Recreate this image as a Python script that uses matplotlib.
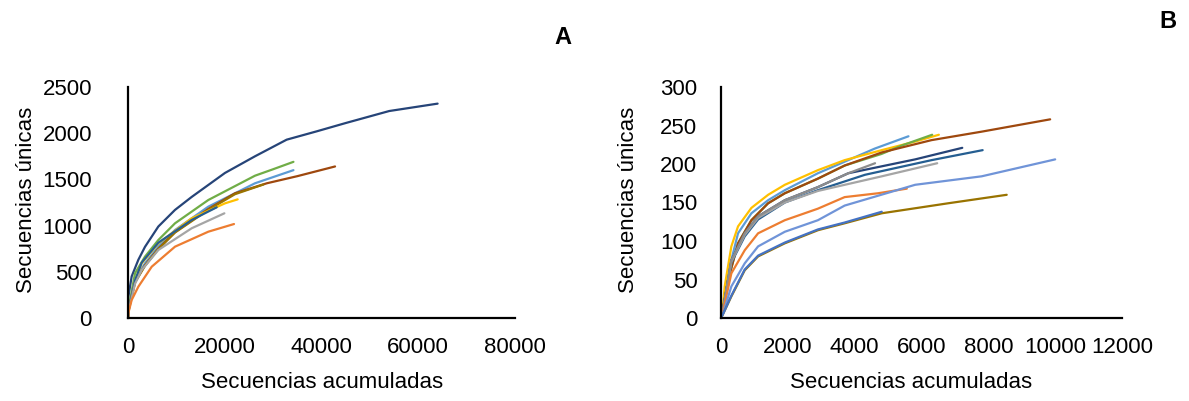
# plot.py
# rarefaction curves, two panels (A: all reads, B: subset)

import matplotlib
matplotlib.use('Agg')
import matplotlib.pyplot as plt

plt.rcParams['font.family'] = ['Liberation Sans', 'DejaVu Sans']

# panel A: accumulated vs unique sequences
A_X = [
	[0, 70, 760, 2140, 3510, 6270, 9720, 13160, 20050, 26250, 32800, 39000, 45000, 54000, 64000],
	[0, 100, 1450, 3510, 6270, 9720, 16600, 26250, 30000, 34200],
	[0, 100, 1450, 3510, 6270, 9720, 16600, 26250, 34200],
	[0, 100, 1450, 3510, 6270, 9720, 16600, 22120, 28700, 35000, 42800],
	[0, 100, 1450, 3510, 6270, 9720, 16600, 22120, 28000],
	[0, 100, 1450, 2830, 6270, 13160, 20050, 22670],
	[0, 100, 1450, 2830, 6270, 13160, 18330],
	[0, 100, 1450, 2830, 6270, 13160, 19920],
	[0, 100, 760, 2140, 4900, 9720, 16600, 21910],
]
A_Y = [
	[0, 230, 450, 630, 770, 990, 1170, 1310, 1570, 1750, 1930, 2020, 2110, 2240, 2320],
	[0, 100, 484, 664, 844, 1025, 1277, 1540, 1610, 1690],
	[0, 90, 411, 592, 772, 952, 1205, 1458, 1600],
	[0, 85, 390, 570, 750, 930, 1180, 1350, 1458, 1535, 1640],
	[0, 85, 385, 565, 745, 925, 1170, 1340, 1445],
	[0, 80, 400, 592, 808, 1079, 1241, 1284],
	[0, 80, 405, 600, 815, 1061, 1198],
	[0, 70, 370, 519, 736, 971, 1133],
	[0, 60, 195, 339, 555, 772, 934, 1017],
]
A_COLORS = ['#264478', '#70AD47', '#5B9BD5', '#9E480E', '#997300',
	'#FFC000', '#255E91', '#A5A5A5', '#ED7D31']

# panel B
B_X = [
	[0, 60, 210, 510, 910, 1410, 1910, 2900, 3700, 4600, 5610],
	[0, 60, 110, 310, 510, 910, 1410, 1910, 2900, 3700, 4810, 5800, 6520],
	[0, 60, 210, 510, 910, 1410, 1910, 2900, 3700, 4800, 5410, 6320],
	[0, 60, 210, 510, 910, 1410, 1910, 2900, 3700, 4810, 6300, 7800, 9850],
	[0, 60, 310, 710, 1110, 1910, 2900, 3810, 5810, 7220],
	[0, 60, 310, 710, 1110, 1910, 2900, 4310, 6300, 7830],
	[0, 60, 310, 710, 1110, 1910, 2900, 4810, 6470],
	[0, 60, 310, 710, 1110, 1910, 2900, 3810, 4610],
	[0, 60, 310, 710, 1110, 1910, 2900, 3700, 4700, 5560],
	[0, 60, 310, 710, 1110, 1910, 2900, 3700, 5810, 7800, 10000],
	[0, 60, 310, 710, 1110, 1910, 2900, 3700, 4810, 6800, 8550],
	[0, 60, 310, 710, 1110, 1910, 2900, 3700, 4810],
]
B_Y = [
	[0, 15, 58, 110, 136, 153, 166, 188, 203, 220, 236],
	[0, 15, 41, 93, 119, 143, 160, 173, 192, 205, 218, 229, 238],
	[0, 12, 49, 97, 127, 149, 162, 181, 198, 213, 224, 238],
	[0, 12, 49, 97, 127, 149, 162, 181, 198, 215, 231, 242, 258],
	[0, 10, 75, 110, 132, 153, 170, 188, 206, 221],
	[0, 10, 72, 106, 128, 150, 166, 186, 205, 218],
	[0, 10, 73, 108, 130, 150, 165, 184, 201],
	[0, 10, 75, 110, 132, 153, 170, 188, 201],
	[0, 8, 58, 88, 110, 127, 142, 157, 162, 168],
	[0, 6, 41, 71, 93, 112, 127, 146, 173, 184, 206],
	[0, 5, 28, 62, 80, 97, 114, 123, 136, 149, 160],
	[0, 5, 29, 63, 81, 98, 115, 124, 138],
]
B_COLORS = ['#5B9BD5', '#FFC000', '#70AD47', '#9E480E', '#264478', '#255E91',
	'#A5A5A5', '#8C8C8C', '#ED7D31', '#7094D8', '#997300', '#4472C4']

A_XTICKS = [0, 20000, 40000, 60000, 80000]
A_YTICKS = [0, 500, 1000, 1500, 2000, 2500]
B_XTICKS = [0, 2000, 4000, 6000, 8000, 10000, 12000]
B_YTICKS = [0, 50, 100, 150, 200, 250, 300]

W, H = 1189, 401


def style_axes(ax, xticks, yticks, ypad):
	for s in ['top', 'right']:
		ax.spines[s].set_visible(False)
	for s in ['left', 'bottom']:
		ax.spines[s].set_linewidth(1.6)
	ax.set_xticks(xticks)
	ax.set_yticks(yticks)
	ax.set_xlim(xticks[0], xticks[-1])
	ax.set_ylim(yticks[0], yticks[-1])
	ax.tick_params(axis='x', length=0, pad=14, labelsize=16)
	ax.tick_params(axis='y', length=0, pad=ypad, labelsize=16)


def plot_panel(ax, xs, ys, colors):
	for x, y, c in zip(xs, ys, colors):
		ax.plot(x, y, color=c, lw=1.6, solid_capstyle='round',
			solid_joinstyle='round')


def main():
	fig = plt.figure(figsize=(W / 100, H / 100), dpi=100)
	ax_a = fig.add_axes([128 / W, (H - 318) / H, 387 / W, 231 / H])
	ax_b = fig.add_axes([721 / W, (H - 318) / H, 401 / W, 231 / H])

	plot_panel(ax_a, A_X, A_Y, A_COLORS)
	plot_panel(ax_b, B_X, B_Y, B_COLORS)
	style_axes(ax_a, A_XTICKS, A_YTICKS, 26)
	style_axes(ax_b, B_XTICKS, B_YTICKS, 17)

	for cx, cy in [(322, 383), (911, 383)]:
		fig.text(cx / W, 1 - cy / H, 'Secuencias acumuladas', fontsize=16,
			ha='center', va='center')
	for cx in [27, 628]:
		fig.text(cx / W, 1 - 200 / H, 'Secuencias únicas', fontsize=16,
			ha='center', va='center', rotation=90)

	fig.text(563 / W, 1 - 38 / H, 'A', fontsize=17, fontweight='bold',
		ha='center', va='center')
	fig.text(1168 / W, 1 - 22 / H, 'B', fontsize=17, fontweight='bold',
		ha='center', va='center')

	fig.savefig('out.png', dpi=100)
	plt.close(fig)


if __name__ == '__main__':
	main()
